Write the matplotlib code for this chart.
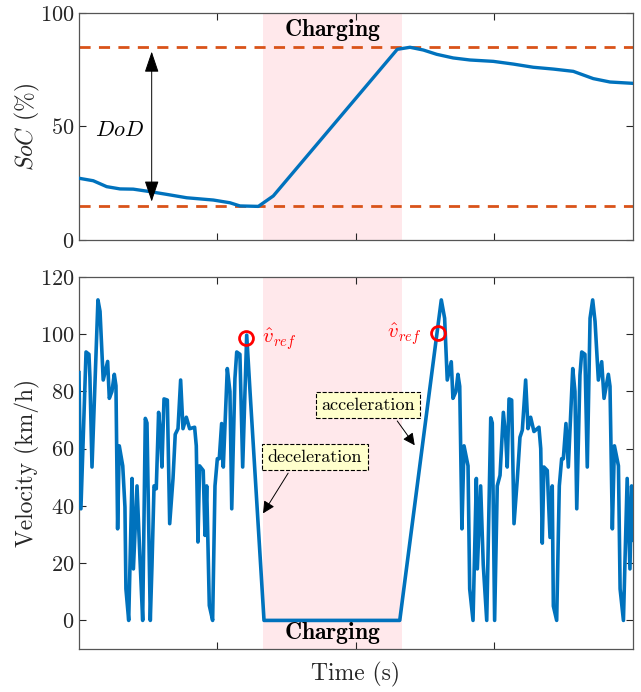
import matplotlib
matplotlib.use("Agg")
import matplotlib.pyplot as plt

plt.rcParams['font.family'] = 'serif'
plt.rcParams['font.serif'] = ['cmr10']
plt.rcParams['mathtext.fontset'] = 'cm'
plt.rcParams['axes.unicode_minus'] = False
plt.rcParams['axes.formatter.use_mathtext'] = True

# Datos
t_soc = [0, 103, 200, 296, 392, 513, 633, 778, 970, 1090, 1162, 1295, 1403,
         2298, 2390, 2486, 2583, 2702, 2823, 2991, 3136, 3280, 3425, 3569,
         3713, 3834, 4002]
soc = [27.2, 26.1, 23.5, 22.5, 22.4, 21.3, 20.1, 18.6, 17.6, 16.4, 15.0, 14.8,
       19.4, 84.0, 84.9, 83.7, 81.8, 80.2, 79.3, 78.7, 77.5, 76.1, 75.3, 74.3,
       71.1, 69.6, 69.0]

t_vel = [0, 14, 51, 72, 79, 94, 137, 152, 175, 207, 219, 238, 255, 267, 279,
         291, 316, 332, 339, 359, 383, 393, 419, 440, 460, 479, 491, 515, 527,
         542, 558, 575, 590, 599, 614, 638, 655, 679, 695, 715, 734, 751, 775,
         799, 835, 847, 859, 871, 897, 910, 922, 941, 965, 982, 999, 1013, 1030,
         1042, 1071, 1090, 1103, 1126, 1139, 1162, 1182, 1211, 1235, 1336,
         2316, 2616, 2640, 2659, 2688, 2700, 2722, 2736, 2749, 2765, 2780, 2809,
         2821, 2845, 2869, 2876, 2900, 2919, 2944, 2973, 2984, 3001, 3020, 3040,
         3064, 3081, 3092, 3105, 3124, 3141, 3165, 3184, 3201, 3225, 3242, 3261,
         3285, 3321, 3334, 3345, 3357, 3381, 3401, 3417, 3425, 3449, 3468, 3485,
         3497, 3516, 3533, 3565, 3581, 3594, 3617, 3630, 3653, 3670, 3690, 3709,
         3726, 3750, 3774, 3791, 3822, 3834, 3851, 3866, 3895, 3907, 3931, 3958,
         3978, 3990, 4007]
vel = [86.6, 39, 93.8, 93, 85, 53.6, 112, 108, 84, 90.5, 77.6, 80, 86, 82, 32,
       61, 54, 39.6, 11, 0, 49.6, 18, 47, 22, 0, 70.6, 69, 0, 19,
       47, 46, 72.7, 64, 53.6, 77.4, 77, 33.8, 49.6, 65, 67, 84, 67, 71,
       67, 67.5, 61, 27.4, 54, 52.4, 29.7, 47, 5.2, 0, 47, 56.5, 56.5, 68.8,
       53.6, 88, 80, 39, 84.5, 93.8, 93, 53.6, 99.7, 80, 0,
       0, 112, 105.6, 84, 90.4, 77.6, 80, 86, 81.8, 32, 61, 54,
       11, 0, 49.6, 18, 47, 19.4, 0, 70.8, 69, 0, 47, 50.7,
       72.7, 64, 53.6, 77.4, 77, 33.8, 49.6, 64, 66.5, 84, 67, 71,
       66, 67.5, 60, 27, 53.6, 52.4, 29, 47, 5, 0, 47, 56.5,
       56.5, 68.8, 53.6, 88, 80, 39, 85.7, 93.8, 93, 53.6, 105.6, 112,
       104.5, 84, 90.4, 77.6, 86, 81.8, 32, 61, 54, 11, 0, 49.6,
       18, 47, 28]

soc_max = 85
soc_min = 15
charge_start = 1329
charge_end = 2332
vref_pts = [(1206, 98.8), (2594, 100.5)]

blue = '#0072BD'
orange = '#D95319'
pink = '#FFE8EB'
gray = '#262626'

fig = plt.figure(figsize=(6.41, 6.92), dpi=100)
ax1 = fig.add_axes([0.1232, 0.6532, 0.8643, 0.328])
ax2 = fig.add_axes([0.1232, 0.0621, 0.8643, 0.5376])

for ax in (ax1, ax2):
    ax.axvspan(charge_start, charge_end, color=pink, lw=0, zorder=0)
    ax.set_xlim(0, 4000)
    ax.set_xticks([1000, 2000, 3000])
    ax.set_xticklabels([])
    ax.tick_params(direction='in', top=True, right=True, length=5,
                   labelsize=16, colors=gray, width=0.8)
    for s in ax.spines.values():
        s.set_color('#555555')
        s.set_linewidth(0.9)

# Gráfico superior: SoC
ax1.plot(t_soc, soc, color=blue, lw=2.4, zorder=3)
ax1.axhline(soc_max, color=orange, ls=(0, (4, 3)), lw=2, zorder=2)
ax1.axhline(soc_min, color=orange, ls=(0, (4, 3)), lw=2, zorder=2)
ax1.set_ylim(0, 100)
ax1.set_yticks([0, 50, 100])
ax1.set_ylabel('$SoC$ (%)', fontsize=17, color=gray)
ax1.yaxis.set_label_coords(-0.066, 0.5)
ax1.annotate('', xy=(525, 83), xytext=(525, 16.9),
             arrowprops=dict(arrowstyle='<|-|>,head_width=0.22,head_length=0.65',
                             color='black', lw=0.7,
                             mutation_scale=20, shrinkA=0, shrinkB=0))
ax1.text(296, 48.5, '$DoD$', fontsize=16, ha='center', va='center')
ax1.text((charge_start + charge_end) / 2, 92.5, r'$\mathbf{Charging}$',
         fontsize=17, ha='center', va='center')

# Gráfico inferior: velocidad
ax2.plot(t_vel, vel, color=blue, lw=2.6, zorder=3)
ax2.set_ylim(-10, 120)
ax2.set_yticks(range(0, 121, 20))
ax2.set_ylabel('Velocity (km/h)', fontsize=17, color=gray)
ax2.yaxis.set_label_coords(-0.07, 0.5)
ax2.set_xlabel('Time (s)', fontsize=17, color=gray, labelpad=6)
ax2.text((charge_start + charge_end) / 2, -4.5, r'$\mathbf{Charging}$',
         fontsize=17, ha='center', va='center')

for tx, vx in vref_pts:
    ax2.plot(tx, vx, 'o', mfc='none', mec='red', ms=10, mew=2, zorder=4)
ax2.text(1325, 98.3, r'$\hat{v}_{ref}$', color='red', fontsize=15,
         ha='left', va='center')
ax2.text(2475, 100.0, r'$\hat{v}_{ref}$', color='red', fontsize=15,
         ha='right', va='center')

box = dict(boxstyle='square,pad=0.3', fc='#FFFFCC', ec='black', ls='--', lw=0.8)
ax2.annotate('deceleration', xy=(1329, 37.4), xytext=(1704, 57),
             fontsize=13, ha='center', va='center', bbox=box,
             arrowprops=dict(arrowstyle='-|>', color='black', lw=0.7,
                             mutation_scale=18, shrinkB=0,
                             relpos=(0.27, 0)))
ax2.annotate('acceleration', xy=(2424, 61.2), xytext=(2087, 75.2),
             fontsize=13, ha='center', va='center', bbox=box,
             arrowprops=dict(arrowstyle='-|>', color='black', lw=0.7,
                             mutation_scale=18, shrinkB=0,
                             relpos=(0.75, 0)))

fig.savefig('out.png', dpi=100)
